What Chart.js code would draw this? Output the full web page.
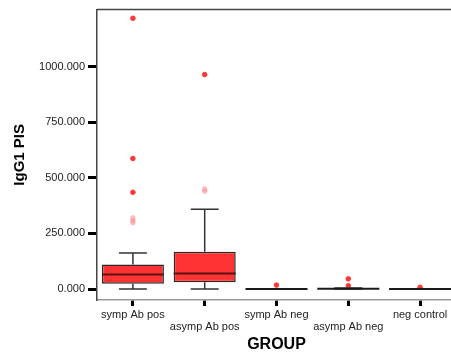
<!DOCTYPE html>
<html>
<head>
<meta charset="utf-8">
<script src="https://cdn.jsdelivr.net/npm/chart.js@4.4.1/dist/chart.umd.min.js"></script>
<style>
  html, body { margin: 0; padding: 0; background: #fff; overflow: hidden; }
  #wrap { width: 462px; height: 358px; }
</style>
</head>
<body>
<div id="wrap"><canvas id="igg-chart"></canvas></div>
<script>
// box plot values
const groups = ['symp Ab pos', 'asymp Ab pos', 'symp Ab neg', 'asymp Ab neg', 'neg control'];
const whiskerLow = [0, 0, 0, 0, 0];
const q1 = [24, 31, 0, 0, 0];
const median = [66, 70, 0, 1, 0];
const q3 = [110, 168, 0, 4, 0];
const whiskerHigh = [162, 359, 1, 5, 0];
// extreme values (solid) and outliers (pale)
const extremes = [[1217, 587, 435], [964], [18], [15, 46], [8]];
const outliers = [[320, 308, 298], [450, 440], [], [], []];
const yTicks = [0, 250, 500, 750, 1000];

const FONT = "'Liberation Sans', Arial, sans-serif";

function toPoints(lists) {
    const pts = [];
    lists.forEach((vals, i) => vals.forEach(v => pts.push({x: groups[i], y: v})));
    return pts;
}

// whiskers, caps and medians drawn on top of the floating bars
const boxLines = {
    id: 'boxLines',
    afterDatasetsDraw(chart) {
        const {ctx, scales: {x, y}} = chart;
        const bars = chart.getDatasetMeta(0).data;
        ctx.save();
        groups.forEach((g, i) => {
            const cx = x.getPixelForValue(i);
            const half = bars[i].width / 2;
            const cap = half * 0.45;
            ctx.strokeStyle = '#333';
            ctx.lineWidth = 1.5;
            ctx.beginPath();
            ctx.moveTo(cx, y.getPixelForValue(q3[i]));
            ctx.lineTo(cx, y.getPixelForValue(whiskerHigh[i]));
            ctx.moveTo(cx, y.getPixelForValue(q1[i]));
            ctx.lineTo(cx, y.getPixelForValue(whiskerLow[i]));
            ctx.moveTo(cx - cap, y.getPixelForValue(whiskerHigh[i]));
            ctx.lineTo(cx + cap, y.getPixelForValue(whiskerHigh[i]));
            ctx.moveTo(cx - cap, y.getPixelForValue(whiskerLow[i]));
            ctx.lineTo(cx + cap, y.getPixelForValue(whiskerLow[i]));
            ctx.stroke();
            ctx.strokeStyle = q3[i] - q1[i] > 10 ? '#5a1212' : '#1a1a1a';
            ctx.lineWidth = 2;
            ctx.beginPath();
            ctx.moveTo(cx - half, y.getPixelForValue(median[i]));
            ctx.lineTo(cx + half, y.getPixelForValue(median[i]));
            ctx.stroke();
        });
        // top edge of the frame
        const area = chart.chartArea;
        ctx.strokeStyle = '#444';
        ctx.lineWidth = 1.5;
        ctx.beginPath();
        ctx.moveTo(area.left, area.top);
        ctx.lineTo(area.right, area.top);
        ctx.stroke();
        ctx.restore();
    }
};

function buildBoxChart() {
    const ctx = document.getElementById('igg-chart').getContext('2d');
    return new Chart(ctx, {
        type: 'bar',
        data: {
            labels: groups,
            datasets: [{
                type: 'bar',
                data: groups.map((g, i) => [q1[i], q3[i]]),
                backgroundColor: '#ff3333',
                borderColor: '#2a2a2a',
                borderWidth: 1.5,
                borderSkipped: false,
                barPercentage: 0.864,
                categoryPercentage: 1,
                order: 2
            }, {
                type: 'scatter',
                data: toPoints(outliers),
                backgroundColor: 'rgba(255, 120, 120, 0.4)',
                borderColor: 'rgba(255, 120, 120, 0.4)',
                pointRadius: 2.3,
                order: 1
            }, {
                type: 'scatter',
                data: toPoints(extremes),
                backgroundColor: '#ff3838',
                borderColor: '#ff3838',
                pointRadius: 2.3,
                order: 0
            }]
        },
        options: {
            responsive: true,
            maintainAspectRatio: false,
            animation: false,
            layout: {padding: {top: 8, right: 6, left: 0, bottom: 0}},
            plugins: {legend: {display: false}, tooltip: {enabled: false}},
            scales: {
                x: {
                    type: 'category',
                    offset: true,
                    afterFit(scale) { scale.height = 58; },
                    grid: {offset: false, drawOnChartArea: false, drawTicks: true,
                        tickLength: 6, tickWidth: 3, tickColor: '#000'},
                    border: {color: '#999', width: 1.5},
                    ticks: {
                        color: '#222', padding: 3, maxRotation: 0, autoSkip: false,
                        font: {family: FONT, size: 11, lineHeight: 1.1},
                        callback: (v, i) => i % 2 ? ['', groups[i]] : groups[i]
                    },
                    title: {display: true, text: 'GROUP', color: '#000',
                        font: {family: FONT, size: 16, weight: 'bold'},
                        padding: {top: 0, bottom: 4}}
                },
                y: {
                    min: -49,
                    max: 1256,
                    afterFit(scale) { scale.width = 97; },
                    afterBuildTicks(scale) { scale.ticks = yTicks.map(v => ({value: v})); },
                    grid: {drawOnChartArea: false, drawTicks: true,
                        tickLength: 9, tickWidth: 3, tickColor: '#000'},
                    border: {color: '#444', width: 1.5},
                    ticks: {
                        color: '#222', padding: 3,
                        font: {family: FONT, size: 11},
                        callback: v => v.toFixed(3)
                    },
                    title: {display: true, text: 'IgG1 PIS', color: '#000',
                        font: {family: FONT, size: 15, weight: 'bold'},
                        padding: {top: 11, bottom: 0}}
                }
            }
        },
        plugins: [boxLines]
    });
}

document.addEventListener('DOMContentLoaded', buildBoxChart);
</script>
</body>
</html>
